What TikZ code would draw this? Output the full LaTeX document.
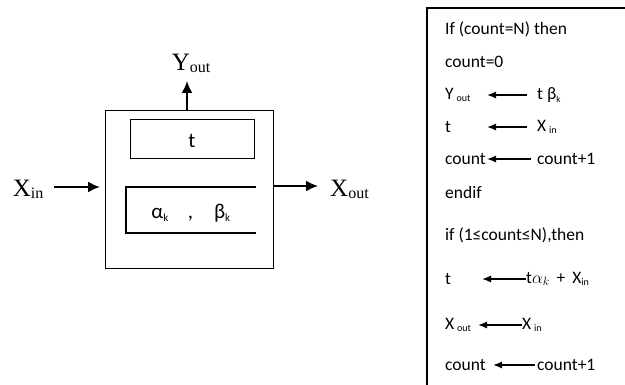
\documentclass[tikz,border=0pt]{standalone}
\usepackage{fontspec}
\setmainfont{Carlito}
\newfontfamily\tms{Liberation Serif}
\usetikzlibrary{arrows.meta}
\begin{document}
\begin{tikzpicture}[x=1pt,y=-1pt,
  box/.style={draw,line width=1.1pt,inner sep=0pt,anchor=north west},
  bigarrow/.style={line width=2pt,-{Latex[length=12pt,width=11pt]}},
  smallarrow/.style={line width=1.3pt,-{Latex[length=9pt,width=7pt]}},
  lbl/.style={font=\tms\fontsize{25}{27}\selectfont,inner sep=0pt},
  code/.style={anchor=west,inner sep=0pt,font=\fontsize{17.5}{20}\selectfont}]
\useasboundingbox (0,0) rectangle (625,385);
% left block
\node[box,minimum width=168pt,minimum height=158pt] (outer) at (105,110) {};
\node[box,minimum width=124pt,minimum height=39pt] (tbox) at (130,119) {};
\node[font=\fontsize{21}{23}\selectfont,inner sep=0pt] (tlab) at (192,141) {t};
\coordinate (ab1) at (256,187);
\coordinate (ab2) at (126,187);
\coordinate (ab3) at (126,233);
\coordinate (ab4) at (256,233);
\draw[line width=1.1pt] (ab1) -- (ab2) -- (ab3) -- (ab4);
\node[inner sep=0pt,font=\fontsize{21}{23}\selectfont] (ablab) at (191,213) {α\textsubscript{\fontsize{11}{12}\selectfont k}\hspace{19pt},\hspace{21pt}β\textsubscript{\fontsize{11}{12}\selectfont k}};
\node[lbl] (xin) at (28,189) {X\raisebox{-2pt}{\fontsize{16}{17}\selectfont in}};
\node[lbl,anchor=west] (xout) at (330,189) {X\raisebox{-2pt}{\fontsize{16}{17}\selectfont out}};
\node[lbl] (yout) at (191,63) {Y\raisebox{-2pt}{\fontsize{16}{17}\selectfont out}};
\coordinate (xinA) at (54,187);
\coordinate (xinB) at (100,187);
\draw[bigarrow] (xinA) -- (xinB);
\coordinate (xoA) at (273,186);
\coordinate (xoB) at (318,186);
\draw[bigarrow] (xoA) -- (xoB);
\coordinate (yoA) at (187,110);
\coordinate (yoB) at (187,81);
\draw[bigarrow] (yoA) -- (yoB);
% right panel
\coordinate (pTR) at (626,8);
\coordinate (pTL) at (427,8);
\coordinate (pBL) at (427,386);
\draw[line width=1.1pt] (pTR) -- (pTL) -- (pBL);
\node[code] (l1) at (445,29) {If (count=N) then};
\node[code] (l2) at (445,62) {count=0};
\node[code] (l3) at (445,95) {Y\,\raisebox{-2pt}{\fontsize{10}{11}\selectfont out}};
\node[code] (l3r) at (537,95) {t β\textsubscript{\fontsize{9}{10}\selectfont k}};
\coordinate (a3s) at (527,95); \coordinate (a3e) at (487,95);
\draw[smallarrow] (a3s) -- (a3e);
\node[code] (l4) at (445,127) {t};
\node[code] (l4r) at (537,127) {X\,\raisebox{-2pt}{\fontsize{10}{11}\selectfont in}};
\coordinate (a4s) at (527,127); \coordinate (a4e) at (487,127);
\draw[smallarrow] (a4s) -- (a4e);
\node[code] (l5) at (445,159) {count};
\node[code] (l5r) at (537,159) {count+1};
\coordinate (a5s) at (531,159); \coordinate (a5e) at (487,159);
\draw[smallarrow] (a5s) -- (a5e);
\node[code] (l6) at (445,192) {endif};
\node[code] (l7) at (445,235) {if (1≤count≤N),then};
\node[code] (l8) at (445,279) {t};
\node[code] (l8r) at (526,279) {t$\alpha_k$ \,+\, X\raisebox{-2pt}{\fontsize{10}{11}\selectfont in}};
\coordinate (a8s) at (526,279); \coordinate (a8e) at (482,279);
\draw[smallarrow] (a8s) -- (a8e);
\node[code] (l9) at (445,325) {X\,\raisebox{-2pt}{\fontsize{10}{11}\selectfont out}};
\node[code] (l9r) at (522,325) {X\,\raisebox{-2pt}{\fontsize{10}{11}\selectfont in}};
\coordinate (a9s) at (522,325); \coordinate (a9e) at (478,325);
\draw[smallarrow] (a9s) -- (a9e);
\node[code] (l10) at (445,365) {count};
\node[code] (l10r) at (537,365) {count+1};
\coordinate (a10s) at (535,365); \coordinate (a10e) at (493,365);
\draw[smallarrow] (a10s) -- (a10e);
\end{tikzpicture}
\end{document}
